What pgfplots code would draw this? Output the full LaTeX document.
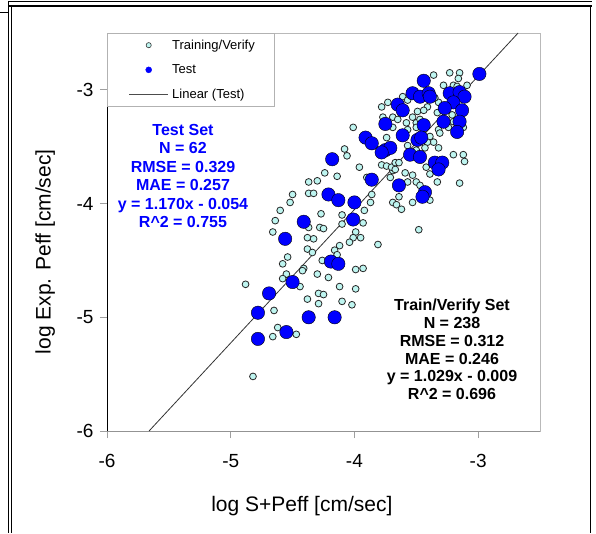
\documentclass[border=0pt]{standalone}
\usepackage{pgfplots}
\pgfplotsset{compat=1.18}
\usepackage{fontspec}
\setmainfont{Liberation Sans}
\definecolor{trainfill}{RGB}{190,245,240}
\definecolor{testblue}{RGB}{0,0,255}
\begin{document}
\begin{tikzpicture}
\useasboundingbox (0pt,0pt) rectangle (596pt,533pt);
\draw[black, line width=0.8pt] (9pt,532pt) -- (592pt,532pt);
\draw[black, line width=1.6pt] (9pt,527pt) -- (592pt,527pt);
\draw[black, line width=0.8pt] (8.5pt,532pt) -- (8.5pt,0pt);
\draw[black, line width=0.8pt] (11.5pt,527pt) -- (11.5pt,0pt);
\draw[black, line width=0.8pt] (0pt,520.5pt) -- (8.5pt,520.5pt);
\draw[black, line width=1pt] (590pt,527pt) -- (590pt,0pt);
\begin{axis}[
 at={(107pt,102pt)}, anchor=south west, scale only axis, width=433pt, height=398pt,
 xmin=-6, xmax=-2.5, ymin=-6, ymax=-2.5,
 xtick={-6,-5,-4,-3}, xticklabels={-6,-5,-4,-3},
 ytick={-6,-5,-4,-3}, yticklabels={-6,-5,-4,-3},
 tick pos=left, tick align=outside, major tick length=7pt,
 tick style={gray!75, line width=0.8pt},
 axis line style={gray!55, line width=0.8pt},
 ticklabel style={font=\fontsize{19}{22}\selectfont},
 xticklabel style={yshift=-13pt},
 yticklabel style={xshift=-3pt},
 xlabel={log S+Peff [cm/sec]}, ylabel={log Exp. Peff [cm/sec]},
 label style={font=\fontsize{21}{25}\selectfont},
 xlabel style={at={(axis description cs:0.45,-0.188)}, anchor=center},
 ylabel style={at={(axis description cs:-0.143,0.45)}, anchor=center},
 legend cell align=left,
 legend style={at={(0,1)}, anchor=north west, draw=gray!60, fill=white,
   font=\fontsize{13}{15}\selectfont, inner xsep=0pt, inner ysep=4.5pt, row sep=10pt},
]
\draw[black, line width=1pt] (rel axis cs:0,0) -- (rel axis cs:0,1);
\draw[gray!85, line width=0.9pt] (rel axis cs:0,0) -- (rel axis cs:1,0);
\addplot[only marks, mark=*, mark size=3.4pt, mark options={fill=trainfill, draw=black!85, line width=0.8pt},
 legend image code/.code={\path[draw=none, fill=none] (-22pt,-5pt) rectangle (41pt,5pt); \draw[black!80, fill=trainfill, line width=0.6pt] (19.5pt,0pt) circle (2.6pt);}]
coordinates {
(-4.37,-3.81) (-4.30,-3.80) (-4.50,-3.92) (-4.52,-3.99) (-4.37,-3.91) (-4.33,-3.91) (-4.60,-4.06) (-4.64,-4.15) (-4.27,-4.09) (-4.10,-4.10) (-4.66,-4.25) (-4.37,-4.21) (-4.28,-4.21) (-4.25,-4.22) (-4.10,-4.18) (-4.38,-4.30) (-4.33,-4.31) (-4.12,-4.37) (-4.38,-4.40) (-4.34,-4.43) (-4.16,-4.41) (-4.54,-4.47) (-4.26,-4.50) (-4.58,-4.53) (-4.41,-4.57) (-4.42,-4.59) (-4.30,-4.62) (-4.55,-4.62) (-4.58,-4.66) (-4.21,-4.65) (-4.88,-4.71) (-4.44,-4.73) (-4.12,-4.73) (-4.29,-4.79) (-4.25,-4.80) (-4.38,-4.84) (-4.10,-4.86) (-4.29,-4.88) (-4.65,-4.94) (-4.62,-5.09) (-4.66,-5.17) (-4.47,-5.15) (-4.82,-5.52)
(-4.24,-3.73) (-4.14,-3.76) (-3.90,-3.77) (-3.86,-3.92) (-3.87,-3.99) (-3.92,-4.06) (-3.99,-4.25) (-3.95,-4.30) (-4.01,-4.30) (-4.04,-4.34) (-3.81,-4.36) (-4.14,-4.45) (-3.99,-4.58) (-3.93,-4.57) (-3.99,-4.75) (-4.02,-4.89)
(-3.69,-3.71) (-3.59,-3.73) (-3.53,-3.75) (-3.39,-3.74) (-3.33,-3.81) (-3.50,-3.81) (-3.47,-3.84) (-3.57,-3.81) (-3.69,-3.99) (-3.66,-4.01) (-3.64,-3.94) (-3.62,-4.05) (-3.53,-3.99) (-3.39,-3.97) (-3.93,-4.17) (-3.48,-4.23) (-3.15,-3.82)
(-3.61,-3.06) (-3.57,-3.09) (-3.78,-3.15) (-3.73,-3.11) (-3.49,-3.19) (-3.41,-3.15) (-3.44,-3.18) (-4.01,-3.33) (-3.77,-3.24) (-3.69,-3.24) (-3.65,-3.26) (-3.58,-3.29) (-3.53,-3.24) (-3.50,-3.29) (-3.47,-3.26) (-3.69,-3.33) (-3.57,-3.35) (-3.50,-3.33) (-3.43,-3.33) (-3.74,-3.42) (-3.57,-3.49) (-3.50,-3.53) (-4.08,-3.52) (-4.06,-3.58) (-3.78,-3.66) (-3.74,-3.67) (-3.70,-3.68) (-3.67,-3.64) (-3.64,-3.64) (-3.67,-3.70) (-3.96,-3.68) (-3.71,-3.77)
(-3.36,-2.87) (-3.23,-2.85) (-3.15,-2.85) (-3.16,-2.90) (-3.28,-2.96) (-3.20,-2.96) (-3.17,-2.97) (-3.09,-2.96) (-3.32,-3.11) (-3.33,-3.20) (-3.35,-3.07) (-3.21,-3.22) (-3.15,-3.26) (-3.20,-3.28) (-3.13,-3.29) (-3.24,-3.33) (-3.12,-3.33) (-3.32,-3.35) (-3.31,-3.38) (-3.39,-3.41) (-3.36,-3.46) (-3.41,-3.46) (-3.32,-3.51) (-3.43,-3.51) (-3.20,-3.57) (-3.12,-3.57) (-3.11,-3.63) (-3.42,-3.68)
};
\addlegendentry{\makebox[100pt][l]{Training/Verify}}
\addplot[only marks, mark=*, mark size=6.7pt, mark options={fill=testblue, draw=none},
 legend image code/.code={\path[draw=none, fill=none] (-22pt,-5pt) rectangle (41pt,5pt); \fill[testblue] (19.5pt,0pt) circle (3pt);}]
coordinates {
(-4.21,-3.92) (-4.13,-3.97) (-4.41,-4.16) (-4.56,-4.31) (-4.19,-4.51) (-4.13,-4.53) (-4.50,-4.69) (-4.69,-4.79) (-4.78,-4.96) (-4.37,-5.00) (-4.16,-5.00) (-4.55,-5.13) (-4.78,-5.19) (-3.86,-3.79) (-4.00,-3.99) (-4.01,-4.14) (-3.64,-3.84) (-3.43,-3.90) (-3.45,-3.94) (-3.44,-2.92) (-3.53,-3.03) (-3.47,-3.06) (-3.65,-3.13) (-3.61,-3.18) (-3.75,-3.30) (-3.61,-3.40) (-3.91,-3.42) (-3.86,-3.47) (-3.49,-3.44) (-3.75,-3.53) (-3.71,-3.51) (-3.78,-3.55) (-3.55,-3.57) (-3.47,-3.59) (-4.18,-3.61) (-2.99,-2.86) (-3.40,-3.03) (-3.39,-3.06) (-3.23,-3.03) (-3.15,-3.02) (-3.11,-3.06) (-3.20,-3.11) (-3.27,-3.16) (-3.13,-3.18) (-3.28,-3.28) (-3.15,-3.28) (-3.44,-3.31) (-3.17,-3.37) (-3.46,-3.42) (-3.35,-3.64) (-3.29,-3.64) (-3.32,-3.70)
};
\addlegendentry{Test}
\addplot[black!80, line width=0.8pt,
 legend image code/.code={\path[draw=none, fill=none] (-22pt,-5pt) rectangle (41pt,5pt); \draw[black!70, line width=0.8pt] (0pt,0pt) -- (39pt,0pt);}]
coordinates {(-5.66,-6) (-2.677,-2.5)};
\addlegendentry{Linear (Test)}
\end{axis}
\node[anchor=north, align=center, text=testblue, inner sep=0pt, font=\bfseries\fontsize{16}{18.5}\selectfont] at (183pt,409pt)
 {Test Set\\N = 62\\RMSE = 0.329\\MAE = 0.257\\y = 1.170x - 0.054\\R\textasciicircum{}2 = 0.755};
\node[anchor=north, align=center, text=black, inner sep=0pt, font=\bfseries\fontsize{16}{17.8}\selectfont] at (452pt,234pt)
 {Train/Verify Set\\N = 238\\RMSE = 0.312\\MAE = 0.246\\y = 1.029x - 0.009\\R\textasciicircum{}2 = 0.696};
\end{tikzpicture}
\end{document}
